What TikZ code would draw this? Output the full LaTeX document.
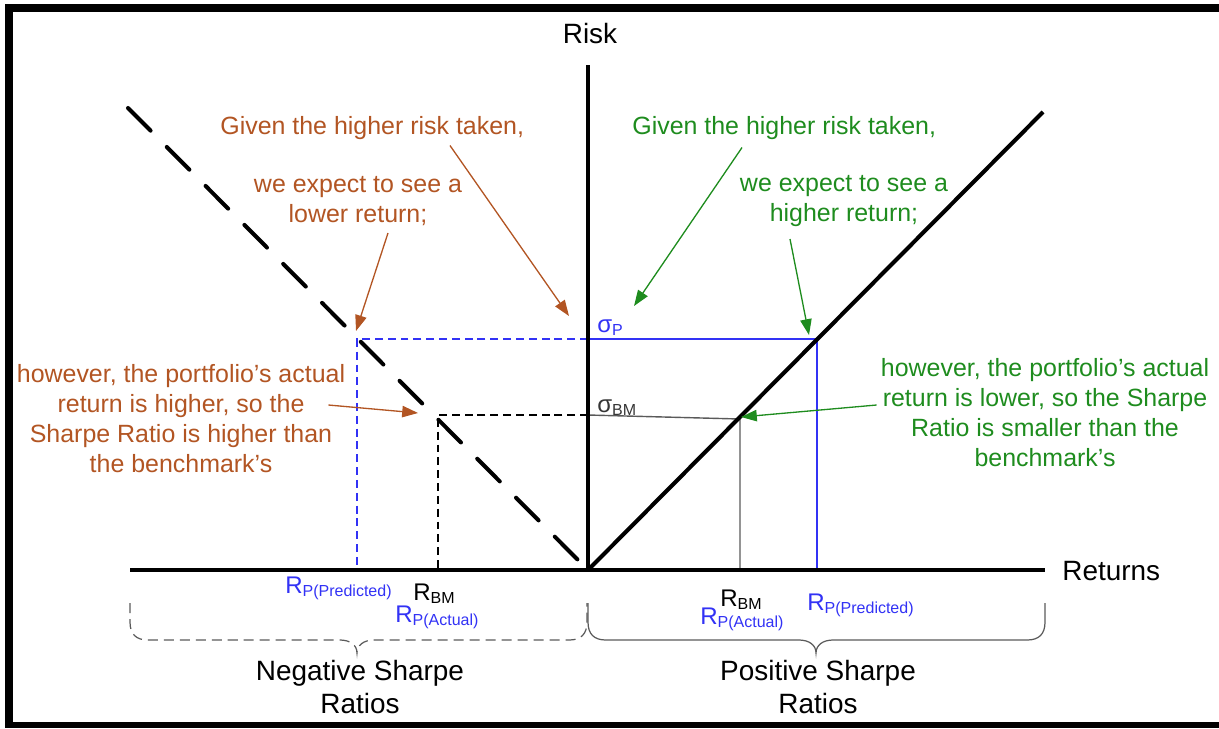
\documentclass[tikz,border=0pt]{standalone}
\usepackage{fontspec}
\setmainfont{Liberation Sans}
\usepackage{xcolor}
\usetikzlibrary{arrows.meta,calc}
\definecolor{notebrown}{RGB}{178,85,35}
\definecolor{notegreen}{RGB}{30,140,30}
\definecolor{levelblue}{RGB}{50,50,245}
\definecolor{rulegray}{RGB}{90,90,90}
\newcommand{\lowsub}[1]{\raisebox{-1.8pt}{\fontsize{9.1}{10}\selectfont #1}}

\begin{document}
\begin{tikzpicture}[x=0.02cm, y=-0.02cm,
    axis/.style={line width=2.3pt},
    level/.style={line width=1.1pt, levelblue},
    bench/.style={line width=0.8pt, rulegray},
    shortdash/.style={dash pattern=on 4.5pt off 2.8pt},
    note/.style={font=\fontsize{14.2}{17.07}\selectfont, align=center, inner sep=0pt},
    callout/.style={line width=0.75pt, -{Triangle[length=9pt,width=6.5pt]}},
    axislabel/.style={font=\fontsize{15.9}{19.3}\selectfont, align=center, inner sep=0pt},
    rlabel/.style={font=\fontsize{13.7}{16}\selectfont, inner sep=0pt, anchor=base west},
    bracket/.style={line width=0.7pt, rulegray}]
    \useasboundingbox (0,0) rectangle (1219,728);

    % frame
    \fill (5,4) rectangle (13,728);
    \fill (5,4) rectangle (1219,12);
    \fill (5,722) rectangle (1219,728);

    % axes and the two lines
    \coordinate (O) at (588,570);
    \coordinate (ytop) at (588,65);
    \coordinate (xl) at (130,570);
    \coordinate (xr) at (1045,570);
    \coordinate (posend) at (1043,112);
    \coordinate (negend) at (128,108);

    % risk levels
    \coordinate (sP) at (588,339);
    \coordinate (sBM) at (588,415);
    \coordinate (pP) at (817,339);
    \coordinate (nP) at (357,339);
    \coordinate (pBM) at (740,419);
    \coordinate (nBM) at (438,415);

    \draw[level] (sP) -- (pP) -- (pP |- O);
    \draw[level, shortdash] (sP) -- (nP) -- (nP |- O);
    \draw[bench] (sBM) -- (pBM) -- (pBM |- O);
    \draw[line width=0.8pt, shortdash] (sBM) -- (nBM) -- (nBM |- O);

    \draw[axis] (xl) -- (xr);
    \draw[axis] (O) -- (ytop);
    \draw[axis] (O) -- (posend);
    \draw[axis, line cap=round, dash pattern=on 18.2pt off 13.1pt] (negend) -- (O);

    \node[axislabel, anchor=base] (risk) at (590,43) {Risk};
    \node[axislabel, anchor=base west] (returns) at (1062,580) {Returns};

    \node[rlabel, levelblue] (sigp) at (597,332) {σ\lowsub{P}};
    \node[rlabel, rulegray!60!black] (sigbm) at (597,412) {σ\lowsub{BM}};

    % return labels
    \node[rlabel, levelblue] (rppl) at (285,593) {R\lowsub{P(Predicted)}};
    \node[rlabel] (rbml) at (413,600) {R\lowsub{BM}};
    \node[rlabel, levelblue] (rpal) at (395,622) {R\lowsub{P(Actual)}};
    \node[rlabel] (rbmr) at (720,606) {R\lowsub{BM}};
    \node[rlabel, levelblue] (rpar) at (700,624) {R\lowsub{P(Actual)}};
    \node[rlabel, levelblue] (rppr) at (807,610) {R\lowsub{P(Predicted)}};

    % braces
    \draw[bracket, dash pattern=on 5.7pt off 3.4pt] (130,603) -- (130,622)
        .. controls (130,634) and (136,640) .. (148,640) -- (340,640)
        .. controls (350,640) and (357,645) .. (357,653)
        .. controls (357,645) and (364,640) .. (374,640) -- (569,640)
        .. controls (581,640) and (587,634) .. (587,622) -- (587,603);
    \draw[bracket] (588,603) -- (588,622)
        .. controls (588,634) and (594,640) .. (606,640) -- (799,640)
        .. controls (809,640) and (816,645) .. (816,653)
        .. controls (816,645) and (823,640) .. (833,640) -- (1027,640)
        .. controls (1039,640) and (1045,634) .. (1045,622) -- (1045,603);

    \node[axislabel] (neg) at (360,687) {Negative Sharpe\\Ratios};
    \node[axislabel] (pos) at (818,687) {Positive Sharpe\\Ratios};

    % notes on the negative side
    \node[note, notebrown, anchor=base west] (b1) at (220,134) {Given the higher risk taken,};
    \node[note, notebrown] (b2) at (358,201) {we expect to see a\\lower return;};
    \node[note, notebrown] (b3) at (181,419) {however, the portfolio's actual\\return is higher, so the\\Sharpe Ratio is higher than\\the benchmark's};
    \draw[callout, notebrown] ($(b1.south west)+(230,6)$) -- (569,316);
    \draw[callout, notebrown] ($(b2.south)+(30,7)$) -- (356,331);
    \draw[callout, notebrown] ($(b3.east)+(-17,-14)$) -- (418,413);

    % notes on the positive side
    \node[note, notegreen, anchor=base west] (g1) at (632,134) {Given the higher risk taken,};
    \node[note, notegreen] (g2) at (844,201) {we expect to see a\\higher return;};
    \node[note, notegreen] (g3) at (1045,413) {however, the portfolio's actual\\return is lower, so the Sharpe\\Ratio is smaller than the\\benchmark's};
    \draw[callout, notegreen] ($(g1.south west)+(110,8)$) -- (634,306);
    \draw[callout, notegreen] ($(g2.south)+(-54,12)$) -- (809,335);
    \draw[callout, notegreen] ($(g3.west)+(-4,-8)$) -- (741,417);
\end{tikzpicture}
\end{document}
